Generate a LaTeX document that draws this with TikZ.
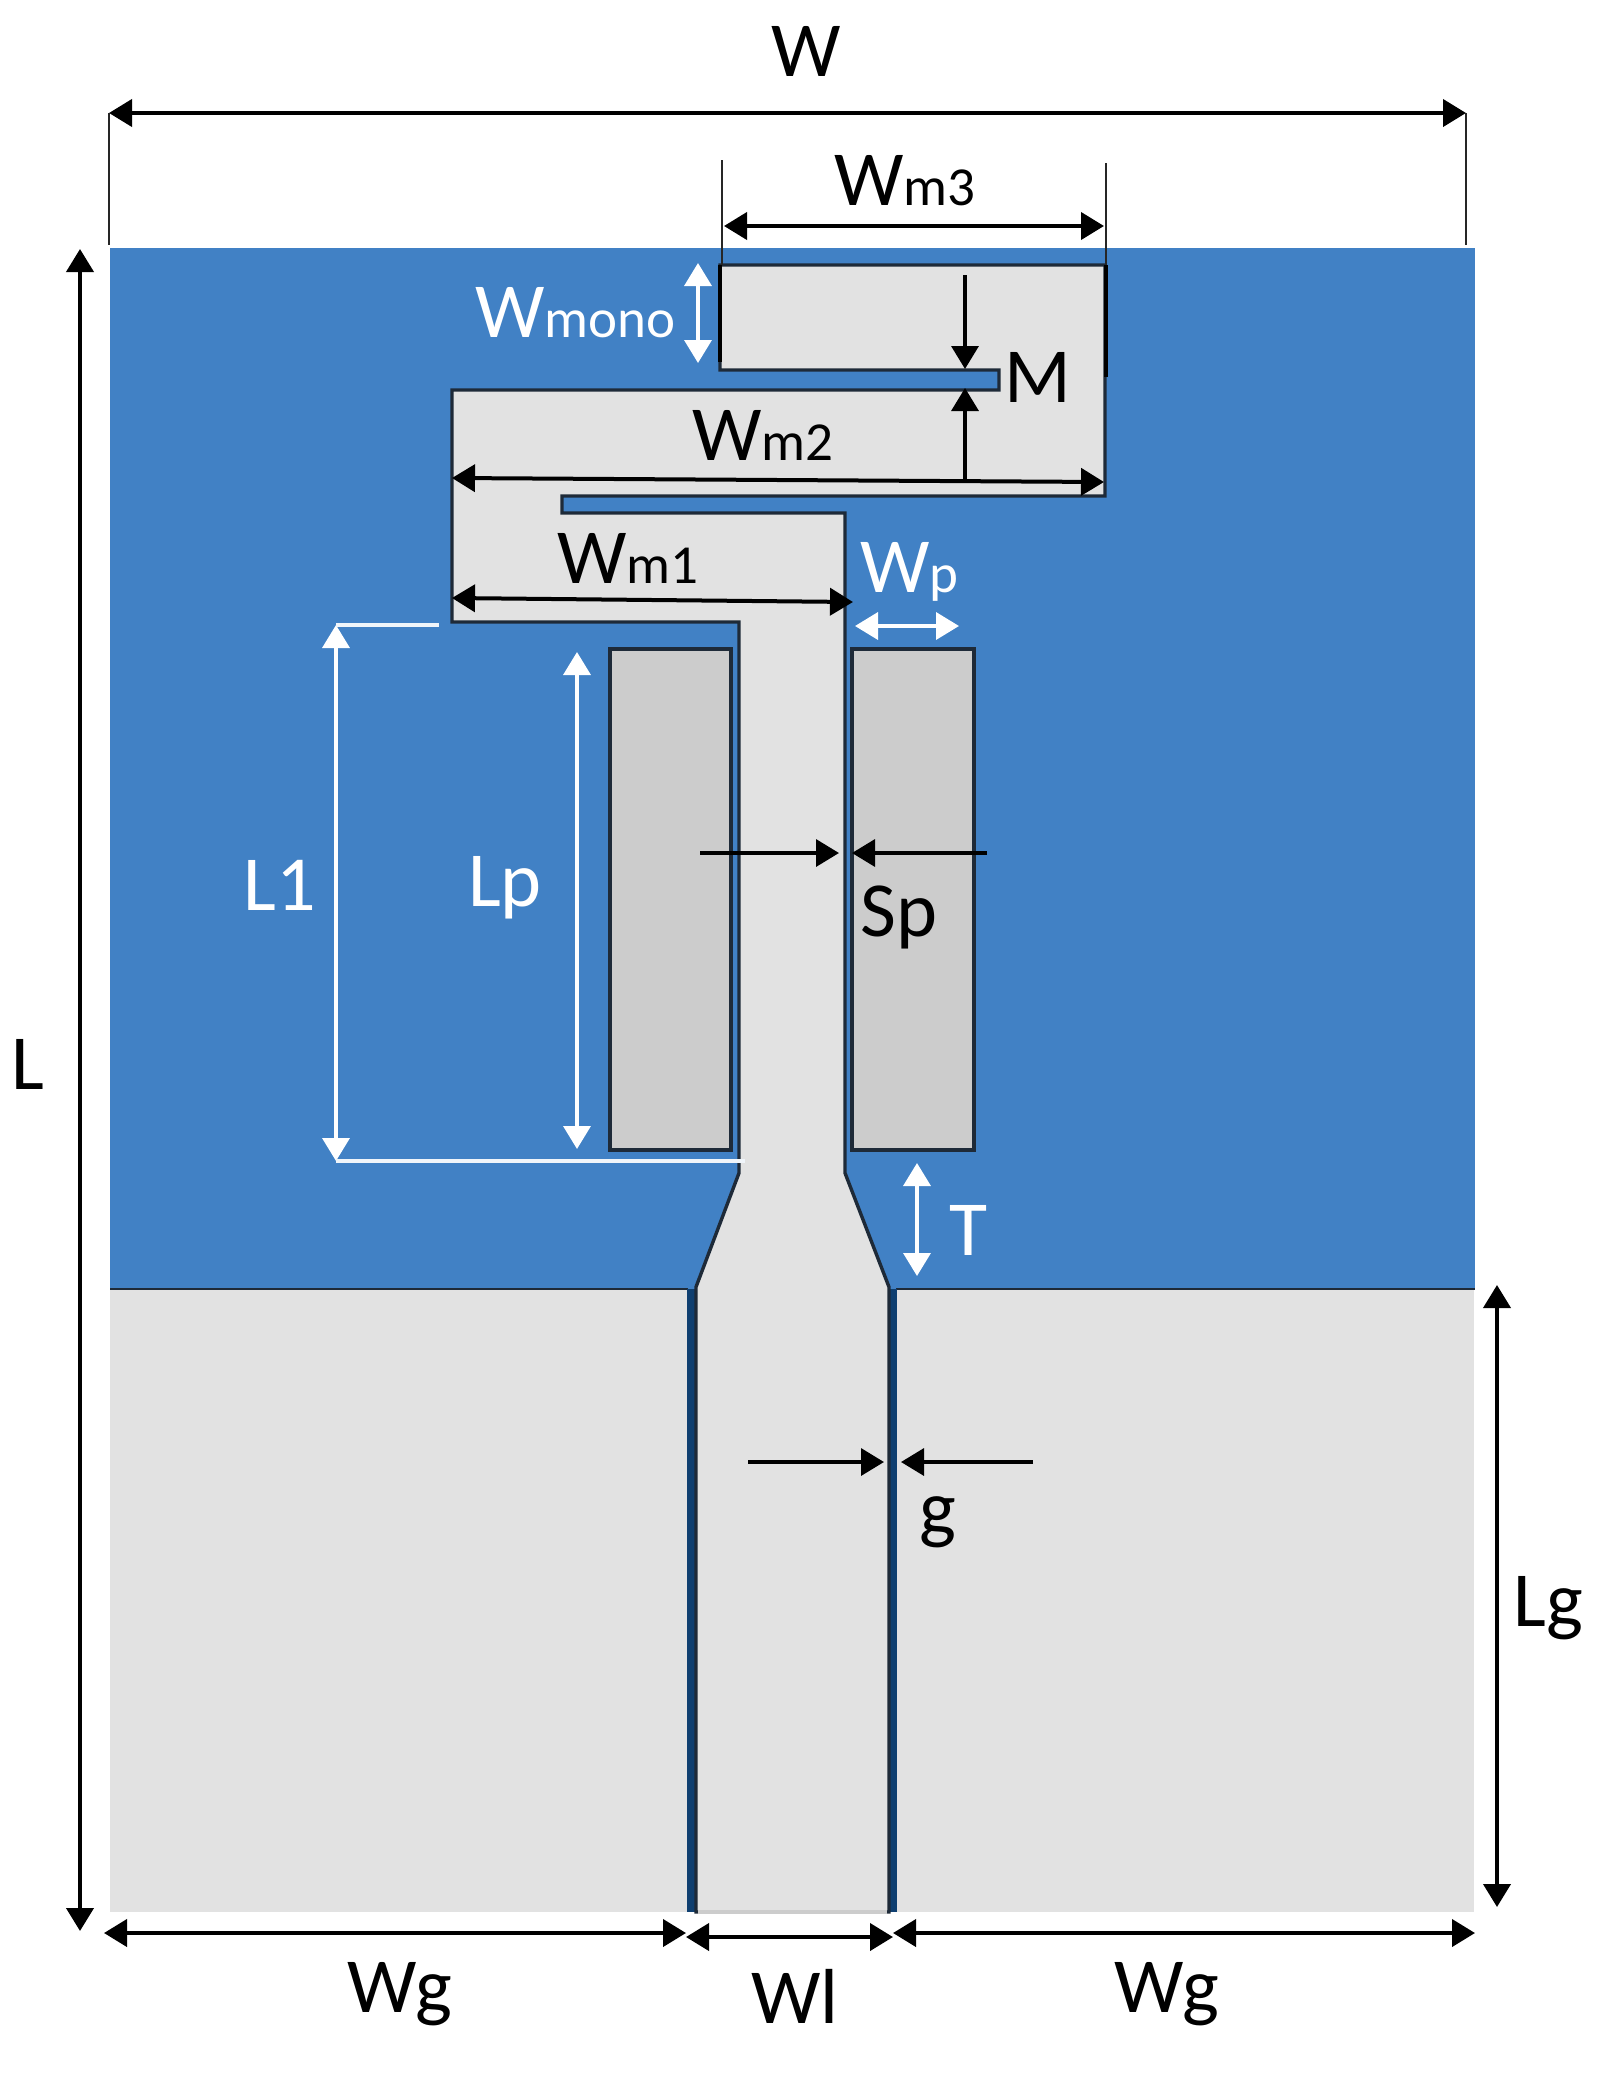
\documentclass[tikz,border=0pt]{standalone}
\usepackage{fontspec}
\setmainfont{Carlito}
\usetikzlibrary{arrows.meta}
\definecolor{subblue}{HTML}{4181C5}
\definecolor{metal}{HTML}{E2E2E2}
\definecolor{patchg}{HTML}{CCCCCC}
\definecolor{navy}{HTML}{0F3F70}
\definecolor{edgeg}{HTML}{1E2A38}
\newcommand{\bigf}{\fontsize{78}{78}\selectfont}
\newcommand{\subf}{\fontsize{55}{55}\selectfont}
\tikzset{
  blackdim/.style={draw=black,line width=4pt,{Triangle[length=23pt,width=27pt]}-{Triangle[length=23pt,width=27pt]}},
  whitedim/.style={draw=white,line width=3.6pt,{Triangle[length=23pt,width=27pt]}-{Triangle[length=23pt,width=27pt]}},
  blackone/.style={draw=black,line width=3.4pt,-{Triangle[length=23pt,width=27pt]}},
  extline/.style={draw=black!85,line width=2.8pt},
  whiteline/.style={draw=white!92!subblue,line width=3.6pt},
  metaledge/.style={draw=edgeg,line width=3.4pt,line join=miter},
  lab/.style={inner sep=0pt,anchor=base,font=\bigf,text=black},
  labw/.style={lab,text=white},
  labsub/.style={inner sep=0pt,anchor=base west,text=black},
  labsubw/.style={labsub,text=white}
}
\begin{document}
\begin{tikzpicture}[x=1pt,y=-1pt]
\useasboundingbox (0,0) rectangle (1598,2088);
% substrate
\fill[subblue] (110,248) rectangle (1475,1290);
% ground planes
\fill[metal] (110,1289) rectangle (687,1912);
\fill[metal] (897,1289) rectangle (1474,1912);
\draw[draw=edgeg,line width=2.8pt] (110,1289) -- (688,1289);
\draw[draw=edgeg,line width=2.8pt] (896,1289) -- (1475,1289);
% CPW gaps
\fill[navy] (687,1289) rectangle (697,1912);
\fill[navy] (888,1289) rectangle (897,1912);
% monopole
\filldraw[fill=metal,metaledge]
  (720,265) -- (1105,265) -- (1105,496) -- (562,496) -- (562,513) -- (845,513)
  -- (845,1173) -- (889,1287) -- (889,1912) -- (696,1912) -- (696,1287) -- (739,1173)
  -- (739,622) -- (452,622) -- (452,390) -- (999,390) -- (999,370) -- (720,370) -- cycle;
\draw[draw=patchg,line width=3.4pt] (698,1912) -- (887,1912);
\draw[draw=black,line width=3.8pt] (1106,265) -- (1106,377);
\draw[draw=black,line width=3.8pt] (720,265) -- (720,362);
% parasitic strips
\filldraw[fill=patchg,draw=edgeg,line width=3.2pt] (610,649) rectangle (731,1150);
\filldraw[fill=patchg,draw=edgeg,line width=3.2pt] (852,649) rectangle (974,1150);
% named anchors
\coordinate (wa) at (109,113); \coordinate (wb) at (1466,113);
\coordinate (wc) at (109,245); \coordinate (wd) at (1466,245);
\coordinate (wm3a) at (724,226); \coordinate (wm3b) at (1104,226);
\coordinate (e3a) at (722,160); \coordinate (e3b) at (722,265);
\coordinate (e3c) at (1106,163); \coordinate (e3d) at (1106,265);
\coordinate (monoa) at (698,263); \coordinate (monob) at (698,363);
\coordinate (ma) at (965,275); \coordinate (mb) at (965,369);
\coordinate (mc) at (965,481); \coordinate (md) at (965,388);
\coordinate (wm2a) at (452,478); \coordinate (wm2b) at (1104,482);
\coordinate (wm1a) at (452,598); \coordinate (wm1b) at (853,602);
\coordinate (wpa) at (855,626); \coordinate (wpb) at (959,626);
\coordinate (l1t) at (336,625); \coordinate (l1b) at (336,1161);
\coordinate (l1r) at (745,1161); \coordinate (l1s) at (439,625);
\coordinate (lpa) at (577,652); \coordinate (lpb) at (577,1149);
\coordinate (spa) at (700,853); \coordinate (spb) at (839,853);
\coordinate (spc) at (987,853); \coordinate (spd) at (852,853);
\coordinate (ta) at (917,1163); \coordinate (tb) at (917,1276);
\coordinate (ga) at (748,1462); \coordinate (gb) at (884,1462);
\coordinate (gc) at (1033,1462); \coordinate (gd) at (901,1462);
\coordinate (la) at (80,249); \coordinate (lb) at (80,1931);
\coordinate (lga) at (1497,1285); \coordinate (lgb) at (1497,1907);
\coordinate (wga) at (104,1933); \coordinate (wgb) at (686,1933);
\coordinate (wla) at (686,1937); \coordinate (wlb) at (893,1937);
\coordinate (wgc) at (893,1933); \coordinate (wgd) at (1475,1933);
% dimension lines
\draw[blackdim] (wa) -- (wb);
\draw[extline] (wa) -- (wc);
\draw[extline] (wb) -- (wd);
\draw[extline] (e3a) -- (e3b);
\draw[extline] (e3c) -- (e3d);
\draw[blackdim] (wm3a) -- (wm3b);
\draw[whitedim] (monoa) -- (monob);
\draw[blackone] (ma) -- (mb);
\draw[blackone] (mc) -- (md);
\draw[blackdim] (wm2a) -- (wm2b);
\draw[blackdim] (wm1a) -- (wm1b);
\draw[whitedim] (wpa) -- (wpb);
\draw[whitedim] (l1t) -- (l1b);
\draw[whiteline] (l1b) -- (l1r);
\draw[whiteline] (l1t) -- (l1s);
\draw[whitedim] (lpa) -- (lpb);
\draw[blackone] (spa) -- (spb);
\draw[blackone] (spc) -- (spd);
\draw[whitedim] (ta) -- (tb);
\draw[blackone] (ga) -- (gb);
\draw[blackone] (gc) -- (gd);
\draw[blackdim] (la) -- (lb);
\draw[blackdim] (lga) -- (lgb);
\draw[blackdim] (wga) -- (wgb);
\draw[blackdim] (wla) -- (wlb);
\draw[blackdim] (wgc) -- (wgd);
% labels
\node[lab] (lW) at (806,76) {W};
\node[labsub] (lWm3) at (834,205) {{\bigf W}{\subf m3}};
\node[labsubw] (lWmono) at (475,337) {{\bigf W}{\subf mono}};
\node[lab] (lM) at (1038,402) {M};
\node[labsub] (lWm2) at (692,460) {{\bigf W}{\subf m2}};
\node[labsub] (lWm1) at (557,583) {{\bigf W}{\subf m1}};
\node[labsubw] (lWp) at (860,592) {{\bigf W}{\subf p}};
\node[labw] (lL1) at (280,910) {L1};
\node[labw] (lLp) at (505,906) {Lp};
\node[lab] (lSp) at (899,936) {Sp};
\node[labw] (lT) at (968,1255) {T};
\node[lab] (lg) at (938,1534) {g};
\node[lab] (lL) at (28,1089) {L};
\node[lab] (lLg) at (1548,1626) {Lg};
\node[lab] (lWg1) at (400,2012) {Wg};
\node[lab] (lWl) at (795,2023) {Wl};
\node[lab] (lWg2) at (1167,2012) {Wg};
\end{tikzpicture}
\end{document}
